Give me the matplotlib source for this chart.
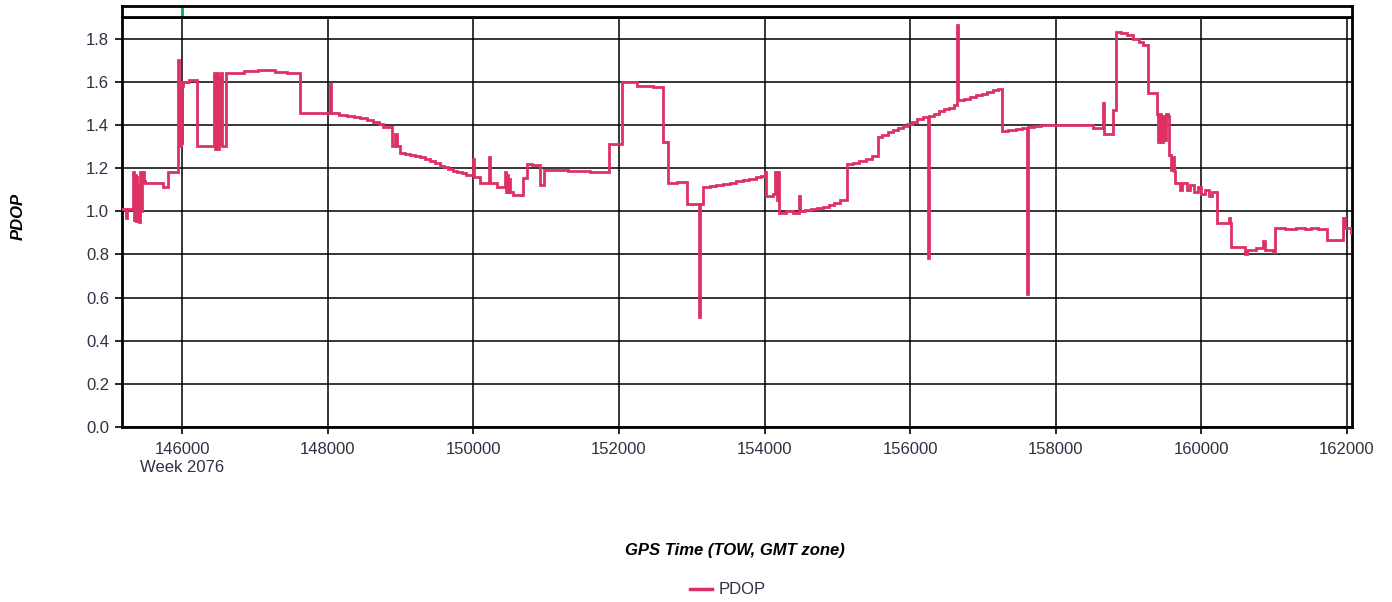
import matplotlib
matplotlib.use("Agg")
import matplotlib.pyplot as plt
from matplotlib.lines import Line2D

plt.rcParams['font.family'] = ['Liberation Sans', 'DejaVu Sans']

# GPS time of week (s) and PDOP, held as steps
tow = [
    145170, 145230, 145250, 145327, 145340, 145352, 145362, 145372, 145382,
    145395, 145405, 145420, 145440, 145455, 145475, 145492, 145739, 145808,
    145945, 145955, 145965, 145975, 145985, 145995, 146005, 146014, 146100,
    146206, 146439, 146450, 146462, 146474, 146486, 146498, 146510, 146522,
    146535, 146549, 146604, 146850, 147050, 147280, 147440, 147621, 148030,
    148045, 148150, 148260, 148360, 148450, 148540, 148623, 148700, 148760,
    148884, 148930, 148950, 148994, 149060, 149130, 149200, 149268, 149340,
    149400, 149470, 149543, 149600, 149650, 149720, 149777, 149840, 149900,
    149990, 150005, 150093, 150216, 150230, 150326, 150436, 150450, 150465,
    150480, 150495, 150505, 150546, 150683, 150738, 150800, 150917, 150972,
    151300, 151600, 151864, 152043, 152249, 152469, 152606, 152675, 152800,
    152936, 153101, 153120, 153156, 153250, 153340, 153430, 153520, 153610,
    153700, 153790, 153880, 153950, 154007, 154021, 154117, 154145, 154165,
    154186, 154199, 154300, 154391, 154474, 154487, 154560, 154640, 154720,
    154800, 154880, 154960, 155040, 155133, 155220, 155300, 155400, 155480,
    155559, 155620, 155690, 155760, 155830, 155900, 155960, 156026, 156100,
    156170, 156245, 156260, 156330, 156400, 156470, 156540, 156600, 156644,
    156660, 156740, 156820, 156900, 156980, 157060, 157140, 157200, 157262,
    157350, 157450, 157530, 157605, 157620, 157700, 157800, 158100, 158300,
    158511, 158649, 158665, 158786, 158827, 158900, 158980, 159060, 159140,
    159200, 159267, 159391, 159410, 159430, 159450, 159470, 159490, 159510,
    159542, 159560, 159580, 159600, 159620, 159638, 159700, 159740, 159800,
    159850, 159900, 159950, 160000, 160050, 160100, 160150, 160214, 160380,
    160393, 160407, 160599, 160627, 160750, 160850, 160880, 160984, 161011,
    161150, 161300, 161420, 161500, 161600, 161725, 161945, 161970, 162050,
]
pdop = [
    1.01, 0.97, 1.01, 1.18, 0.96, 1.17, 0.95, 1.16, 0.96,
    1.12, 0.95, 1.18, 1.00, 1.18, 1.14, 1.13, 1.11, 1.18,
    1.70, 1.31, 1.45, 1.30, 1.60, 1.31, 1.58, 1.60, 1.61,
    1.30, 1.64, 1.29, 1.63, 1.30, 1.64, 1.29, 1.62, 1.31,
    1.64, 1.30, 1.64, 1.648, 1.655, 1.645, 1.64, 1.455, 1.59,
    1.455, 1.448, 1.443, 1.437, 1.43, 1.423, 1.415, 1.405, 1.39,
    1.30, 1.36, 1.30, 1.27, 1.265, 1.26, 1.255, 1.25, 1.24,
    1.232, 1.222, 1.21, 1.203, 1.195, 1.188, 1.18, 1.175, 1.17,
    1.24, 1.16, 1.13, 1.25, 1.13, 1.11, 1.18, 1.09, 1.17,
    1.09, 1.15, 1.09, 1.076, 1.155, 1.22, 1.215, 1.12, 1.19,
    1.185, 1.18, 1.31, 1.60, 1.58, 1.575, 1.32, 1.13, 1.135,
    1.035, 0.51, 1.035, 1.11, 1.115, 1.12, 1.125, 1.13, 1.138,
    1.145, 1.15, 1.158, 1.165, 1.18, 1.07, 1.08, 1.18, 1.05,
    1.18, 0.99, 1.00, 0.99, 1.07, 1.00, 1.005, 1.01, 1.015,
    1.02, 1.03, 1.04, 1.05, 1.22, 1.225, 1.232, 1.24, 1.255,
    1.345, 1.355, 1.365, 1.375, 1.385, 1.395, 1.405, 1.415, 1.425,
    1.435, 0.785, 1.44, 1.452, 1.462, 1.472, 1.48, 1.49, 1.865,
    1.515, 1.522, 1.53, 1.538, 1.545, 1.552, 1.56, 1.568, 1.37,
    1.375, 1.38, 1.385, 0.617, 1.39, 1.395, 1.40, 1.40, 1.398,
    1.385, 1.50, 1.36, 1.47, 1.83, 1.825, 1.815, 1.80, 1.785,
    1.77, 1.55, 1.45, 1.32, 1.45, 1.32, 1.44, 1.33, 1.45,
    1.44, 1.26, 1.19, 1.25, 1.185, 1.13, 1.10, 1.13, 1.10,
    1.12, 1.09, 1.11, 1.08, 1.10, 1.07, 1.09, 0.946, 0.97,
    0.946, 0.836, 0.80, 0.82, 0.83, 0.86, 0.82, 0.81, 0.922,
    0.918, 0.922, 0.918, 0.922, 0.918, 0.866, 0.97, 0.92, 0.90,
]

x_ticks = [146000, 148000, 150000, 152000, 154000, 156000, 158000, 160000, 162000]
x_tick_labels = ['146000\nWeek 2076', '148000', '150000', '152000', '154000',
                 '156000', '158000', '160000', '162000']
y_ticks = [0.0, 0.2, 0.4, 0.6, 0.8, 1.0, 1.2, 1.4, 1.6, 1.8]
week_start = 146000

line_color = '#DE3163'
text_color = '#303042'

fig = plt.figure(figsize=(13.92, 6.02), dpi=100)
ax = fig.add_axes([0.0873, 0.2907, 0.8840, 0.6811])
strip = fig.add_axes([0.0873, 0.9718, 0.8840, 0.0182], sharex=ax)

ax.plot(tow, pdop, drawstyle='steps-post', color=line_color, lw=2.0,
        solid_joinstyle='miter', zorder=3)

ax.set_xlim(145169, 162069)
ax.set_ylim(0, 1.9)
ax.set_xticks(x_ticks)
ax.set_xticklabels(x_tick_labels)
ax.set_yticks(y_ticks)
ax.set_yticklabels([f'{v:.1f}' for v in y_ticks])
ax.grid(True, color='black', lw=1.1, zorder=1)
ax.tick_params(axis='both', direction='out', length=5, width=1.2,
               color='black', labelsize=12, labelcolor=text_color)
ax.tick_params(axis='x', pad=6)
ax.tick_params(axis='y', pad=4)
for sp in ax.spines.values():
    sp.set_linewidth(2.0)

fig.text(735 / 1392, 1 - 550 / 602, 'GPS Time (TOW, GMT zone)', fontsize=12,
         fontweight='bold', fontstyle='italic', color='black',
         ha='center', va='center')
fig.text(18 / 1392, 1 - 216 / 602, 'PDOP', fontsize=12, fontweight='bold',
         fontstyle='italic', color='black', rotation=90,
         ha='center', va='center')

# Week marker strip above the plot
strip.set_ylim(0, 1)
strip.axvline(week_start, color='#00B050', lw=2.0)
strip.tick_params(left=False, bottom=False, labelleft=False, labelbottom=False)
for sp in strip.spines.values():
    sp.set_linewidth(2.0)

handle = Line2D([], [], color=line_color, lw=2.5)
fig.legend([handle], ['PDOP'], loc='center', bbox_to_anchor=(0.523, 0.020),
           frameon=False, fontsize=12, handlelength=1.3, handletextpad=0.4,
           labelcolor=text_color)

fig.savefig('out.png', dpi=100)
